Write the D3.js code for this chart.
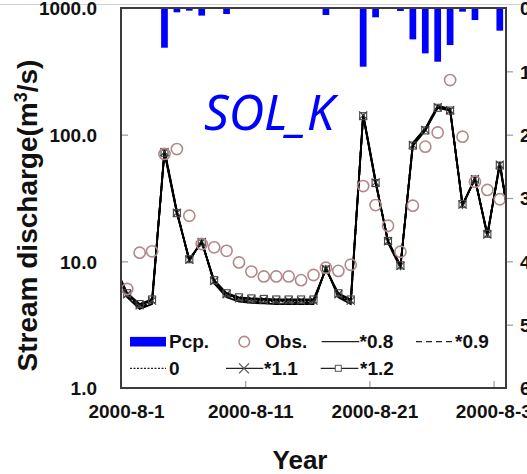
<!DOCTYPE html>
<html>
<head>
<meta charset="utf-8">
<script src="https://cdn.jsdelivr.net/npm/d3@7"></script>
<style>
  body { margin: 0; background: #fff; }
  svg { display: block; font-family: "Liberation Sans", Arial, sans-serif; }
</style>
</head>
<body>
<svg id="chart" width="527" height="474"></svg>
<script>
// simulated series run one day before / after the plotted window (clipped)
const simDates = ["2000-07-31", "2000-08-01", "2000-08-02", "2000-08-03", "2000-08-04", "2000-08-05",
  "2000-08-06", "2000-08-07", "2000-08-08", "2000-08-09", "2000-08-10", "2000-08-11", "2000-08-12",
  "2000-08-13", "2000-08-14", "2000-08-15", "2000-08-16", "2000-08-17", "2000-08-18", "2000-08-19",
  "2000-08-20", "2000-08-21", "2000-08-22", "2000-08-23", "2000-08-24", "2000-08-25", "2000-08-26",
  "2000-08-27", "2000-08-28", "2000-08-29", "2000-08-30", "2000-08-31", "2000-09-01"];
const obsDates = simDates.slice(1, 32);

// observed discharge (m3/s)
const obs = [6.05, 11.7, 12.0, 70.4, 77, 22.9, 13.7, 12.9, 12.1, 9.8, 8.3, 7.6, 7.6, 7.6, 7.1, 7.8,
  8.9, 8.4, 9.4, 39.3, 27.8, 19.1, 11.9, 27.5, 80.4, 104, 270, 96.4, 42.5, 36.6, 30.9];

// precipitation (mm)
const pcp = [0, 0, 1, 62.7, 6.8, 4.2, 12, 0, 9.5, 0, 0, 0, 0, 0, 0, 1, 11, 0, 0, 92.7, 14.7, 0, 4.7,
  49.5, 71.6, 84.8, 58.5, 5.8, 19, 0, 35.8];

// SOL_K sensitivity runs
const sim08 = [8.8, 5.2, 4.2, 4.6, 76, 25.0, 10.0, 14.6, 6.7, 5.2, 4.8, 4.7, 4.65, 4.6, 4.6, 4.6, 4.6,
  9.0, 5.2, 4.6, 146, 43.5, 14.0, 8.9, 86, 112, 169, 160, 27.2, 46, 15.7, 61, 14.6];
const sim09 = [8.9, 5.3, 4.3, 4.7, 75, 24.8, 10.1, 14.4, 6.8, 5.3, 4.9, 4.8, 4.75, 4.7, 4.7, 4.7, 4.7,
  8.9, 5.3, 4.7, 144, 43.0, 14.2, 9.0, 85, 111, 167, 158, 27.5, 45.5, 15.9, 60, 14.8];
const sim0 = [9.0, 5.4, 4.4, 4.8, 74, 24.5, 10.2, 14.3, 6.9, 5.4, 5.0, 4.9, 4.85, 4.8, 4.8, 4.8, 4.8,
  8.8, 5.4, 4.8, 143, 42.5, 14.3, 9.1, 84, 110, 166, 157, 27.8, 45, 16.1, 59, 15];
const sim11 = [9.1, 5.5, 4.5, 4.9, 73, 24.2, 10.3, 14.2, 7.0, 5.5, 5.1, 5.0, 4.95, 4.9, 4.9, 4.9, 4.9,
  8.7, 5.5, 4.9, 142, 42.0, 14.4, 9.2, 83, 109, 165, 156, 28.0, 44.6, 16.3, 58, 15.2];
const sim12 = [9.2, 5.6, 4.6, 5.0, 72, 24.0, 10.4, 14.1, 7.1, 5.6, 5.2, 5.1, 5.05, 5.0, 5.0, 5.0, 5.0,
  8.6, 5.6, 5.0, 140, 41.5, 14.5, 9.3, 82, 108, 163, 155, 28.3, 44.2, 16.5, 57, 15.4];

const yTicks = [1, 10, 100, 1000];
const pcpTicks = [0, 100, 200, 300, 400, 500, 600];
const xTickDates = ["2000-08-01", "2000-08-11", "2000-08-21", "2000-08-31"];

const margin = { top: 8, right: 21, bottom: 86, left: 121 };
const W = 527, H = 474;
const w = W - margin.left - margin.right;
const h = H - margin.top - margin.bottom;

const parse = d3.utcParse("%Y-%m-%d");
const noon = s => d3.utcHour.offset(parse(s), 12);

const svg = d3.select("#chart");

// faint line across the top of the picture
svg.append("line").attr("x1", 0).attr("x2", W).attr("y1", 4.5).attr("y2", 4.5)
  .attr("stroke", "#cfcfcf").attr("stroke-width", 1);

const g = svg.append("g").attr("transform", `translate(${margin.left},${margin.top})`);

const x = d3.scaleUtc().domain([parse("2000-08-01"), parse("2000-09-01")]).range([0, w]);
const y = d3.scaleLog().domain([1, 1000]).range([h, 0]);
const yP = d3.scaleLinear().domain([0, 600]).range([0, h]);

g.append("clipPath").attr("id", "clip")
  .append("rect").attr("width", w).attr("height", h);

const plot = g.append("g").attr("clip-path", "url(#clip)");

// precipitation bars hanging from the top
const barW = 6.7;
plot.selectAll("rect.pcp").data(pcp.map((v, i) => ({ d: noon(obsDates[i]), v })).filter(p => p.v > 0))
  .enter().append("rect").attr("class", "pcp")
  .attr("x", p => x(p.d) - barW / 2)
  .attr("y", 0)
  .attr("width", barW)
  .attr("height", p => yP(p.v))
  .attr("fill", "#0000ff");

// simulated lines
const series = [
  { name: "*0.8", vals: sim08, dash: null },
  { name: "*0.9", vals: sim09, dash: "6,4" },
  { name: "0", vals: sim0, dash: "2,1.5" },
  { name: "*1.1", vals: sim11, dash: null, marker: "x" },
  { name: "*1.2", vals: sim12, dash: null, marker: "sq" }
];

const line = d3.line().x(p => x(p.d)).y(p => y(p.v));

series.forEach(s => {
  const pts = s.vals.map((v, i) => ({ d: noon(simDates[i]), v }));
  plot.append("path").datum(pts)
    .attr("d", line)
    .attr("fill", "none")
    .attr("stroke", "#000")
    .attr("stroke-width", 1.8)
    .attr("stroke-dasharray", s.dash);
  if (s.marker === "x") {
    plot.selectAll(null).data(pts).enter().append("path")
      .attr("transform", p => `translate(${x(p.d)},${y(p.v)})`)
      .attr("d", "M-4,-4L4,4M-4,4L4,-4")
      .attr("stroke", "#444").attr("stroke-width", 1.2).attr("fill", "none");
  } else if (s.marker === "sq") {
    plot.selectAll(null).data(pts).enter().append("rect")
      .attr("x", p => x(p.d) - 3.5).attr("y", p => y(p.v) - 3.5)
      .attr("width", 7).attr("height", 7)
      .attr("stroke", "#444").attr("stroke-width", 1.1).attr("fill", "none");
  }
});

// observed
plot.selectAll("circle.obs").data(obs.map((v, i) => ({ d: noon(obsDates[i]), v })))
  .enter().append("circle").attr("class", "obs")
  .attr("cx", p => x(p.d)).attr("cy", p => y(p.v)).attr("r", 5.6)
  .attr("fill", "none").attr("stroke", "#b08a8a").attr("stroke-width", 1.6);

// axes
const fmtDate = d => `${d.getUTCFullYear()}-${d.getUTCMonth() + 1}-${d.getUTCDate()}`;

const styleAxis = (sel) => {
  sel.select(".domain").remove();
  sel.selectAll(".tick line").attr("stroke", "#999").attr("stroke-width", 1.2);
  sel.selectAll(".tick text").attr("fill", "#111").style("font-size", "19px").style("font-weight", "bold");
};

g.append("g")
  .call(d3.axisLeft(y).tickValues(yTicks).tickFormat(d3.format(".1f")).tickSizeInner(-7).tickSizeOuter(0).tickPadding(24))
  .call(styleAxis)
  .call(a => a.selectAll(".tick text").attr("dy", "0.36em"));

g.append("g").attr("transform", `translate(0,${h})`)
  .call(d3.axisBottom(x).tickValues(xTickDates.map(parse)).tickFormat(fmtDate).tickSizeInner(-7).tickSizeOuter(0).tickPadding(16.5))
  .call(styleAxis)
  .call(a => a.selectAll(".tick text").attr("x", 5));

g.append("g").attr("transform", `translate(${w},0)`)
  .call(d3.axisRight(yP).tickValues(pcpTicks).tickSize(7).tickPadding(7))
  .call(styleAxis)
  .call(a => a.selectAll(".tick text").attr("dy", "0.36em"))
  .call(a => a.selectAll(".tick line").filter(d => d === 0 || d === 600).remove());

// frame
g.append("rect").attr("width", w).attr("height", h)
  .attr("fill", "none").attr("stroke", "#3c3c3c").attr("stroke-width", 2);

// label
g.append("text").attr("x", 83).attr("y", 122)
  .attr("fill", "#0000ff")
  .style("font-family", "'Noto Sans', 'Open Sans', sans-serif")
  .style("font-style", "italic").style("font-size", "49px")
  .text("SOL_K");

// legend
const leg = g.append("g").style("font-size", "19px").style("font-weight", "bold").attr("fill", "#111");
const r1 = 333.7, r2 = 360.3;

leg.append("rect").attr("x", 9).attr("y", r1 - 4.8).attr("width", 36).attr("height", 9.6).attr("fill", "#0000ff");
leg.append("text").attr("x", 48).attr("y", r1 + 6.5).text("Pcp.");

leg.append("circle").attr("cx", 123.3).attr("cy", r1).attr("r", 5.3)
  .attr("fill", "none").attr("stroke", "#b08a8a").attr("stroke-width", 1.6);
leg.append("text").attr("x", 144).attr("y", r1 + 6.5).text("Obs.");

const legLine = (x0, x1, yy, dash) => leg.append("line").attr("x1", x0).attr("x2", x1)
  .attr("y1", yy).attr("y2", yy).attr("stroke", "#222").attr("stroke-width", 1.3).attr("stroke-dasharray", dash);

legLine(200.7, 238.3, r1, null);
leg.append("text").attr("x", 238.5).attr("y", r1 + 6.5).text("*0.8");

legLine(295, 334, r1, "6,4");
leg.append("text").attr("x", 334).attr("y", r1 + 6.5).text("*0.9");

legLine(9, 45, r2, "2,1.5");
leg.append("text").attr("x", 48).attr("y", r2 + 6.5).text("0");

legLine(105, 142.3, r2, null);
leg.append("path").attr("transform", `translate(123,${r2})`)
  .attr("d", "M-5,-5L5,5M-5,5L5,-5").attr("stroke", "#555").attr("stroke-width", 1.2).attr("fill", "none");
leg.append("text").attr("x", 143).attr("y", r2 + 6.5).text("*1.1");

legLine(199.7, 237.3, r2, null);
leg.append("rect").attr("x", 214.3).attr("y", r2 - 3).attr("width", 6).attr("height", 6)
  .attr("fill", "#fff").attr("stroke", "#555").attr("stroke-width", 1);
leg.append("text").attr("x", 239).attr("y", r2 + 6.5).text("*1.2");

// axis titles
svg.append("text").attr("x", 300).attr("y", 469).attr("text-anchor", "middle")
  .style("font-size", "26px").style("font-weight", "bold").attr("fill", "#111").text("Year");

const yt = svg.append("text").attr("transform", "translate(37,215.5) rotate(-90)")
  .attr("text-anchor", "middle").style("font-size", "28px").style("font-weight", "bold").attr("fill", "#111");
yt.append("tspan").text("Stream discharge(m");
yt.append("tspan").attr("baseline-shift", "super").style("font-size", "18px").text("3");
yt.append("tspan").text("/s)");
</script>
</body>
</html>
